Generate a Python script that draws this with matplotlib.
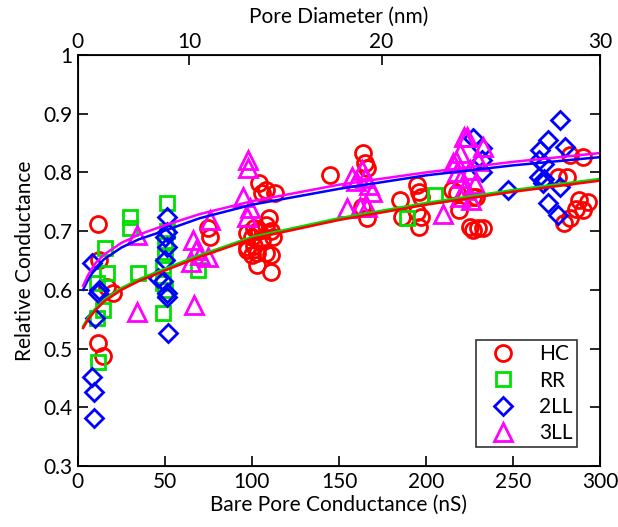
import matplotlib
matplotlib.use('Agg')
import matplotlib.pyplot as plt

plt.rcParams['font.family'] = ['Lato', 'DejaVu Sans']

# --- data ---
hc_x = [11.5, 12, 11.5, 14.4, 17, 20, 75, 76,
        97, 97, 100, 101, 103, 104, 108, 113, 106, 110, 101, 104, 108, 111, 97, 103, 108, 111, 103, 111, 106, 112, 100,
        145, 164, 165, 166, 163, 166, 185, 186, 195, 196, 197, 195, 197, 196,
        215, 218, 219, 225, 227, 227, 230, 233, 229,
        276, 281, 283, 290, 279, 283, 288, 293, 290, 286]
hc_y = [0.712, 0.651, 0.509, 0.487, 0.605, 0.595, 0.705, 0.69,
        0.697, 0.668, 0.69, 0.675, 0.70, 0.782, 0.77, 0.765, 0.765, 0.722, 0.705, 0.70, 0.71, 0.70, 0.673, 0.663, 0.663, 0.66, 0.642, 0.63, 0.685, 0.69, 0.66,
        0.796, 0.833, 0.816, 0.808, 0.741, 0.722, 0.753, 0.724, 0.779, 0.767, 0.758, 0.733, 0.724, 0.707,
        0.77, 0.765, 0.736, 0.707, 0.758, 0.702, 0.705, 0.705, 0.758,
        0.792, 0.792, 0.83, 0.826, 0.714, 0.722, 0.753, 0.75, 0.736, 0.738]

rr_x = [15.5, 16.7, 34.5, 11, 14.4, 11, 11.5, 30, 30, 51, 51, 50, 50, 49, 49, 50, 49, 69, 205, 189]
rr_y = [0.671, 0.629, 0.629, 0.612, 0.566, 0.552, 0.477, 0.724, 0.705, 0.748, 0.70, 0.68, 0.66, 0.64, 0.612, 0.60, 0.56, 0.634, 0.761, 0.722]

ll2_x = [8, 11.5, 10, 8, 9, 9, 12,
         51, 51, 50, 51, 50, 46, 49, 51, 51, 52,
         227, 232, 232, 232, 247,
         277, 270, 265.5, 280, 265, 268, 265, 268, 267, 277, 270, 276]
ll2_y = [0.646, 0.595, 0.552, 0.451, 0.426, 0.382, 0.60,
         0.724, 0.699, 0.69, 0.673, 0.651, 0.62, 0.615, 0.595, 0.588, 0.526,
         0.858, 0.841, 0.821, 0.80, 0.77,
         0.889, 0.855, 0.838, 0.843, 0.821, 0.815, 0.792, 0.788, 0.782, 0.775, 0.748, 0.727]

ll3_x = [34, 34, 67, 66, 68, 70, 75, 65, 76, 98, 98, 95, 97, 99,
         157.5, 163, 165, 167, 169, 154.6, 162, 166, 160,
         210, 219.5, 219.5, 223.6, 215.5, 222, 233, 218, 225, 220, 228, 222, 226, 217, 230]
ll3_y = [0.693, 0.562, 0.574, 0.685, 0.668, 0.66, 0.656, 0.647, 0.719, 0.821, 0.807, 0.758, 0.724, 0.74,
         0.792, 0.804, 0.79, 0.779, 0.767, 0.739, 0.741, 0.741, 0.785,
         0.73, 0.758, 0.833, 0.86, 0.816, 0.86, 0.843, 0.80, 0.804, 0.79, 0.78, 0.77, 0.753, 0.82, 0.82]

# fitted curves
fit_x = [3, 6, 10, 15, 25, 35, 50, 70, 100, 150, 200, 250, 300]
fit_hc = [0.535, 0.55, 0.565, 0.58, 0.60, 0.615, 0.633, 0.656, 0.687, 0.719, 0.745, 0.767, 0.786]
fit_rr = [0.538, 0.553, 0.568, 0.583, 0.603, 0.618, 0.636, 0.659, 0.690, 0.722, 0.748, 0.770, 0.789]
fit_2ll = [0.60, 0.618, 0.637, 0.652, 0.672, 0.686, 0.701, 0.722, 0.745, 0.772, 0.795, 0.812, 0.826]
fit_3ll = [0.607, 0.626, 0.645, 0.66, 0.68, 0.694, 0.71, 0.729, 0.751, 0.779, 0.80, 0.818, 0.833]

# top axis: pore diameter ticks at their conductance positions
top_pos = [0, 63.8, 174.5, 300]
top_labels = ['0', '10', '20', '30']

fig = plt.figure(figsize=(6.18, 5.27), dpi=100)
ax = fig.add_axes([0.126, 0.1157, 0.845, 0.78])

ms = 11.5
mew = 2.0
ax.plot(hc_x, hc_y, 'o', ms=ms, mfc='none', mec='#ff0000', mew=mew, label='HC')
ax.plot(rr_x, rr_y, 's', ms=ms - 2, mfc='none', mec='#00e000', mew=mew, label='RR')
ax.plot(ll2_x, ll2_y, 'D', ms=ms - 2.5, mfc='none', mec='#0000ff', mew=mew, label='2LL')
ax.plot(ll3_x, ll3_y, '^', ms=ms + 1, mfc='none', mec='#ff00ff', mew=mew, label='3LL')

ax.plot(fit_x, fit_rr, '-', color='#00e000', lw=1.8)
ax.plot(fit_x, fit_hc, '-', color='#ff0000', lw=1.8)
ax.plot(fit_x, fit_2ll, '-', color='#0000ff', lw=1.8)
ax.plot(fit_x, fit_3ll, '-', color='#ff00ff', lw=1.8)

ax.set_xlim(0, 300)
ax.set_ylim(0.3, 1.0)
ax.set_xticks([0, 50, 100, 150, 200, 250, 300])
ax.set_yticks([0.3, 0.4, 0.5, 0.6, 0.7, 0.8, 0.9, 1.0])
ax.set_yticklabels(['0.3', '0.4', '0.5', '0.6', '0.7', '0.8', '0.9', '1'])
ax.tick_params(direction='in', length=7, width=1.2, labelsize=15, right=True, pad=4)
for s in ax.spines.values():
    s.set_linewidth(1.3)
ax.set_xlabel('Bare Pore Conductance (nS)', fontsize=15, labelpad=2)
ax.set_ylabel('Relative Conductance', fontsize=15, labelpad=6)

top = ax.twiny()
top.set_xlim(0, 300)
top.set_xticks(top_pos)
top.set_xticklabels(top_labels)
top.tick_params(direction='in', length=7, width=1.2, labelsize=15, pad=2)
top.set_xlabel('Pore Diameter (nm)', fontsize=15, labelpad=7)

leg = ax.legend(loc='lower right', bbox_to_anchor=(0.975, 0.02), fontsize=15,
                frameon=True, fancybox=False, edgecolor='black', handletextpad=0.6,
                borderpad=0.2, labelspacing=0.3, handlelength=2.2)
leg.get_frame().set_linewidth(1.2)

fig.savefig('out.png', dpi=100)
